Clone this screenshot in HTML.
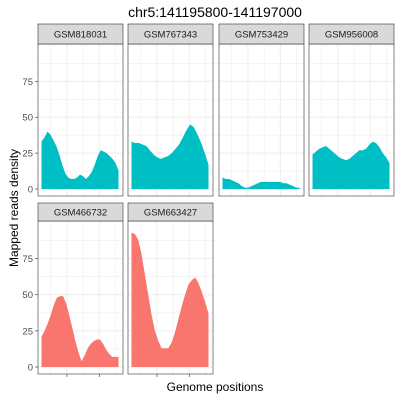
<!DOCTYPE html>
<html><head><meta charset="utf-8"><style>
body{margin:0;background:#fff;}
svg{display:block;font-family:"Liberation Sans",Arial,sans-serif;}
</style></head><body>
<svg id="chart" width="400" height="400" viewBox="0 0 400 400">
<text x="215" y="17" text-anchor="middle" font-size="14" fill="#000">chr5:141195800-141197000</text>
<text transform="translate(18,208) rotate(-90)" text-anchor="middle" font-size="12" fill="#000">Mapped reads density</text>
<text x="215" y="391" text-anchor="middle" font-size="12" fill="#000">Genome positions</text>
<g id="panels"></g>
</svg>
<script>
const sampleNames = ["GSM818031","GSM767343","GSM753429","GSM956008","GSM466732","GSM663427"];
const sampleGroups = ["b","b","b","b","a","a"];
const s818031 = [33,36,40,38,34,30,24,17,11,8,7,7,8,10,9,7,9,12,17,23,27,26,25,23,21,18,13];
const s767343 = [33,32,32,31,30,27,24,22,21,22,23,25,28,31,36,41,45,43,38,32,25,17];
const s753429 = [8,7,7,6,5,4,2,1,1,2,3,4,5,5,5,5,5,5,5,4,4,3,2,1,1];
const s956008 = [24,26,28,29,30,28,26,24,22,21,20,21,23,25,27,27,28,31,33,32,29,25,22,18];
const s466732 = [21,25,30,36,43,48,49,49,44,36,27,18,10,4,8,13,16,18,19,19,16,12,9,7,7,7];
const s663427 = [93,92,88,78,64,50,36,25,18,13,13,13,17,24,33,42,50,57,60,62,58,52,45,37];
const seriesValues = [s818031,s767343,s753429,s956008,s466732,s663427];
const yTicks = [0,25,50,75];
const yTickLabels = ["0","25","50","75"];
const yMax = 101;

const NS = "http://www.w3.org/2000/svg";
const root = document.getElementById("panels");
const colX = [38,128,219,309], panelW = 85;
const rows = [{st:24,top:44,bot:196},{st:203,top:221,bot:374}];
const colors = {a:"#F8766D", b:"#00BFC4"};
function mk(tag, attrs, parent){const e=document.createElementNS(NS,tag);for(const k in attrs)e.setAttribute(k,attrs[k]);parent.appendChild(e);return e;}

sampleNames.forEach((name,i)=>{
  const r = rows[Math.floor(i/4)], x0 = colX[i%4];
  const g = mk("g",{},root);
  
  
  const dl = x0+3.5, dr = x0+panelW-4.5;
  const yBase = r.bot-7, yTopV = r.top;
  const ys = v => yBase - v/yMax*(yBase-yTopV);
  mk("rect",{x:x0,y:r.top,width:panelW,height:r.bot-r.top,fill:"#fff"},g);
  // grid
  for(let t=0;t<=87.5;t+=12.5){const y=ys(t);mk("line",{x1:x0,x2:x0+panelW,y1:y,y2:y,stroke:"#ebebeb","stroke-width":(t%25===0)?0.9:0.5},g);}
  const xt=[dl+(dr-dl)*0.33, dl+(dr-dl)*0.75];
  const xm=[dl+(dr-dl)*0.12, dl+(dr-dl)*0.54, dl+(dr-dl)*0.96];
  xt.forEach(x=>mk("line",{x1:x,x2:x,y1:r.top,y2:r.bot,stroke:"#ebebeb","stroke-width":0.9},g));
  xm.forEach(x=>mk("line",{x1:x,x2:x,y1:r.top,y2:r.bot,stroke:"#ebebeb","stroke-width":0.5},g));
  const vals = seriesValues[i], n = vals.length;
  const xs = k => dl + k/(n-1)*(dr-dl);
  let d = "M"+xs(0)+","+ys(0);
  vals.forEach((v,k)=>{ d += " L"+xs(k)+","+ys(v); });
  d += " L"+xs(n-1)+","+ys(0)+" Z";
  const area = mk("path",{d:d,fill:colors[sampleGroups[i]]},g);
  
  
  mk("rect",{x:x0,y:r.top,width:panelW,height:r.bot-r.top,fill:"none",stroke:"#333","stroke-width":0.6},g);
  const strip = mk("rect",{x:x0,y:r.st,width:panelW,height:r.top-r.st,fill:"#d9d9d9",stroke:"#333","stroke-width":0.6},g);
  
  
  const lbl = mk("text",{x:x0+panelW/2,y:(r.st+r.top)/2+3.5,"text-anchor":"middle","font-size":9.5,fill:"#1a1a1a"},g);
  lbl.textContent = name;
  
  
  if(i%4===0){
    yTicks.forEach((t,k)=>{const y=ys(t);
      mk("line",{x1:x0-3,x2:x0,y1:y,y2:y,stroke:"#333","stroke-width":0.6},g);
      const tl = mk("text",{x:x0-5,y:y+3.5,"text-anchor":"end","font-size":9.5,fill:"#4d4d4d"},g);
      tl.textContent = yTickLabels[k];
      
      
    });
  }
  if(i>=4){ xt.forEach(x=>mk("line",{x1:x,x2:x,y1:r.bot,y2:r.bot+3,stroke:"#333","stroke-width":0.6},g)); }
});
</script>
</body></html>
